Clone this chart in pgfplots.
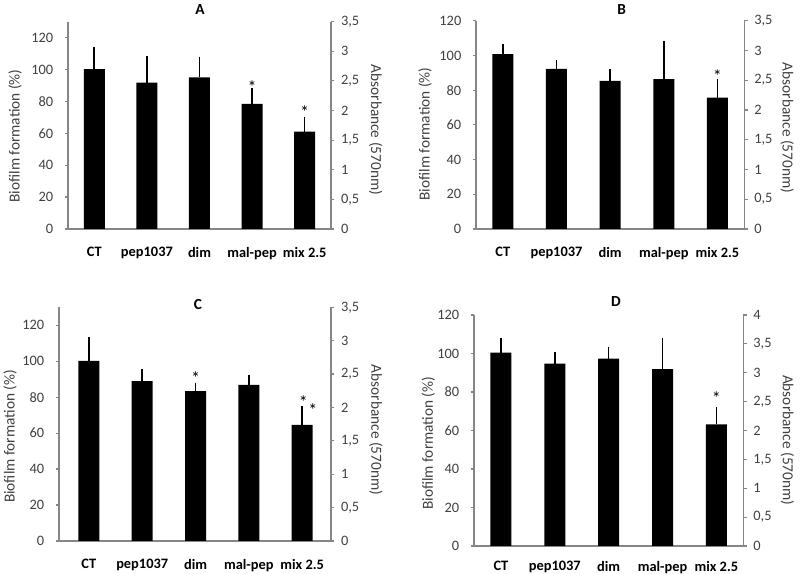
\documentclass[border=0pt]{standalone}
\usepackage{pgfplots}
\pgfplotsset{compat=1.18}
\usepackage{pgfplotstable}
\usepackage{fontspec}
\setmainfont{Carlito}
\definecolor{axgray}{HTML}{868686}
\definecolor{txtgray}{HTML}{404040}

\pgfplotstableread{
x y e
0 100.2 11.7
1 91.8 14.4
2 95.0 10.4
3 78.5 7.5
4 61.1 6.5
}\dataA
\pgfplotstableread{
x y e
0 100.8 3.5
1 92.2 2.7
2 85.3 4.8
3 86.4 19.6
4 75.7 8.6
}\dataB
\pgfplotstableread{
x y e
0 100.2 10.9
1 88.9 4.6
2 83.3 2.6
3 86.9 3.3
4 64.6 8.4
}\dataC
\pgfplotstableread{
x y e
0 100.4 5.4
1 94.7 4.2
2 97.3 4.2
3 91.9 14.1
4 63.2 6.8
}\dataD

\pgfplotsset{
  leftax/.style={
    scale only axis, anchor=south west,
    axis x line*=bottom, axis y line*=left,
    axis line style={draw=axgray, line width=0.9pt, -},
    xmin=-0.5, xmax=4.5, ymin=0,
    xtick={0,1,2,3,4}, xticklabels={CT,pep1037,dim,mal-pep,mix 2.5},
    x tick label style={font=\fontsize{10.8}{12}\selectfont\bfseries, text=black, yshift=-7.5pt},
    x tick style={draw=none},
    ytick distance=20,
    y tick label style={font=\fontsize{10.8}{12}\selectfont, text=txtgray, xshift=-5pt},
    y tick style={draw=axgray, line width=0.9pt},
    tick align=outside, major tick length=2.5pt,
    ylabel={Biofilm formation (\%)},
    ylabel style={font=\fontsize{11.5}{13}\selectfont, text=txtgray, anchor=center},
    every axis title/.style={at={(0.5,1)}, anchor=base, font=\fontsize{11.5}{13}\selectfont\bfseries, text=black},
    /pgf/number format/assume math mode=true,
    clip=false,
  },
  rightax/.style={
    scale only axis, anchor=south west,
    axis x line=none, axis y line*=right,
    axis line style={draw=axgray, line width=0.9pt, -},
    xmin=-0.5, xmax=4.5, ymin=0, ytick distance=0.5,
    y tick label style={font=\fontsize{10.8}{12}\selectfont, text=txtgray, xshift=1.5pt},
    y tick style={draw=axgray, line width=0.9pt},
    tick align=outside, major tick length=2.5pt,
    /pgf/number format/.cd, use comma, assume math mode=true, /pgfplots/.cd,
    ylabel={Absorbance (570nm)},
    ylabel style={font=\fontsize{11.5}{13}\selectfont, text=txtgray, anchor=center, rotate=180},
  },
  barplot/.style={ybar, bar width=15.75pt, fill=black, draw=none,
    error bars/.cd, y dir=plus, y explicit,
    error bar style={black, line width=1.2pt},
    error mark options={black, line width=1.2pt, mark size=3pt}},
  star/.style={draw=none, nodes near coords={*},
    every node near coord/.append style={anchor=center, font=\fontsize{13.5}{15}\selectfont, text=black}},
}

\begin{document}
\begin{tikzpicture}
\path[use as bounding box] (0pt,0pt) rectangle (600pt,430.5pt);

% Panel A
\begin{axis}[leftax, at={(51pt,258.75pt)}, width=197.25pt, height=155.5pt, ymax=130,
  title={A}, title style={at={(0.502,1)}, yshift=5pt},
  ylabel style={at={(axis description cs:-0.2015,0.449)}}]
\addplot[barplot] table[x=x,y=y,y error=e]{\dataA};
\addplot[star] coordinates {(3,88.7) (4,73.0)};
\end{axis}
\begin{axis}[rightax, at={(51pt,258.75pt)}, width=197.25pt, height=155.5pt, ymax=3.5,
  ylabel style={at={(axis description cs:1.17,0.478)}}]
\end{axis}

% Panel B
\begin{axis}[leftax, at={(357pt,258.75pt)}, width=201.2pt, height=156.2pt, ymax=120,
  title={B}, title style={at={(0.543,1)}, yshift=4.3pt},
  ylabel style={at={(axis description cs:-0.19,0.456)}}]
\addplot[barplot] table[x=x,y=y,y error=e]{\dataB};
\addplot[star] coordinates {(4,88.3)};
\end{axis}
\begin{axis}[rightax, at={(357pt,258.75pt)}, width=201.2pt, height=156.2pt, ymax=3.5,
  ylabel style={at={(axis description cs:1.16,0.485)}}]
\end{axis}

% Panel C
\begin{axis}[leftax, at={(44.25pt,24.75pt)}, width=204pt, height=175.3pt, ymax=130,
  xmin=-0.56, xmax=4.54,
  title={C}, title style={at={(0.511,1)}, yshift=-1.5pt},
  ylabel style={at={(axis description cs:-0.18,0.447)}}]
\addplot[barplot] table[x=x,y=y,y error=e]{\dataC};
\addplot[star] coordinates {(2,90.4) (4.02,77.4) (4.2,72.8)};
\end{axis}
\begin{axis}[rightax, at={(44.25pt,24.75pt)}, width=204pt, height=175.3pt, ymax=3.5,
  ylabel style={at={(axis description cs:1.165,0.475)}}]
\end{axis}

% Panel D
\begin{axis}[leftax, at={(355.5pt,21pt)}, width=202pt, height=173.25pt, ymax=120,
  x tick label style={yshift=2.3pt},
  title={D}, title style={at={(0.527,1)}, yshift=6.2pt},
  ylabel style={at={(axis description cs:-0.17,0.445)}}]
\addplot[barplot] table[x=x,y=y,y error=e]{\dataD};
\addplot[star] coordinates {(4,76.7)};
\end{axis}
\begin{axis}[rightax, at={(355.5pt,21pt)}, width=202pt, height=173.25pt, ymax=4,
  ylabel style={at={(axis description cs:1.164,0.458)}}]
\end{axis}
\end{tikzpicture}
\end{document}
